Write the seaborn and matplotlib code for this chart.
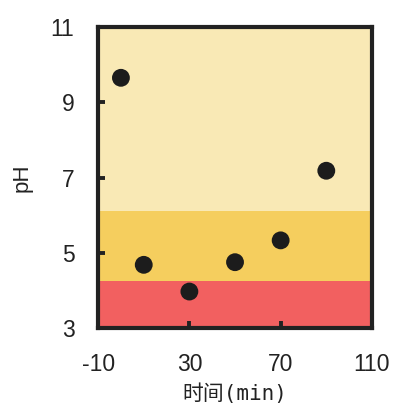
import matplotlib
matplotlib.use("Agg")
import matplotlib.pyplot as plt
import seaborn as sns
import pandas as pd

# data
time_min = [0, 10, 30, 50, 70, 90]
ph = [9.65, 4.68, 3.97, 4.75, 5.33, 7.18]

band_edges = [3, 4.25, 6.1, 11]
band_colors = ["#F26060", "#F5CE5E", "#F9E9B5"]

x_ticks = [-10, 30, 70, 110]
y_ticks = [3, 5, 7, 9, 11]

sns.set_style("ticks")
plt.rcParams["font.family"] = ["Liberation Sans", "Noto Sans CJK SC", "DejaVu Sans"]
plt.rcParams["axes.unicode_minus"] = False

df = pd.DataFrame({"time": time_min, "pH": ph})

fig = plt.figure(figsize=(3.94, 4.03), dpi=100)
ax = fig.add_axes([0.249, 0.186, 0.695, 0.747])

for lo, hi, c in zip(band_edges[:-1], band_edges[1:], band_colors):
    ax.axhspan(lo, hi, color=c, lw=0, zorder=0)

sns.scatterplot(data=df, x="time", y="pH", ax=ax, s=165, color="#1c1c1c",
                edgecolor="none", zorder=3)

ax.set_xlim(-10, 110)
ax.set_ylim(3, 11)
ax.set_xticks(x_ticks)
ax.set_yticks(y_ticks)
ax.tick_params(bottom=True, left=True, direction="in", length=5, width=2.8,
               color="#222222", labelsize=16.5, labelcolor="#222222")
ax.tick_params(axis="x", pad=18)
ax.tick_params(axis="y", pad=17)
for sp in ax.spines.values():
    sp.set_linewidth(3)
    sp.set_color("#222222")
    sp.set_zorder(5)

ax.set_xlabel("时间(min)", fontsize=15,
              family=["DejaVu Sans Mono", "Noto Sans CJK SC"],
              color="#222222", labelpad=5)
ax.set_ylabel("pH", fontsize=16, color="#222222", labelpad=13)

fig.savefig("out.png", dpi=100)
